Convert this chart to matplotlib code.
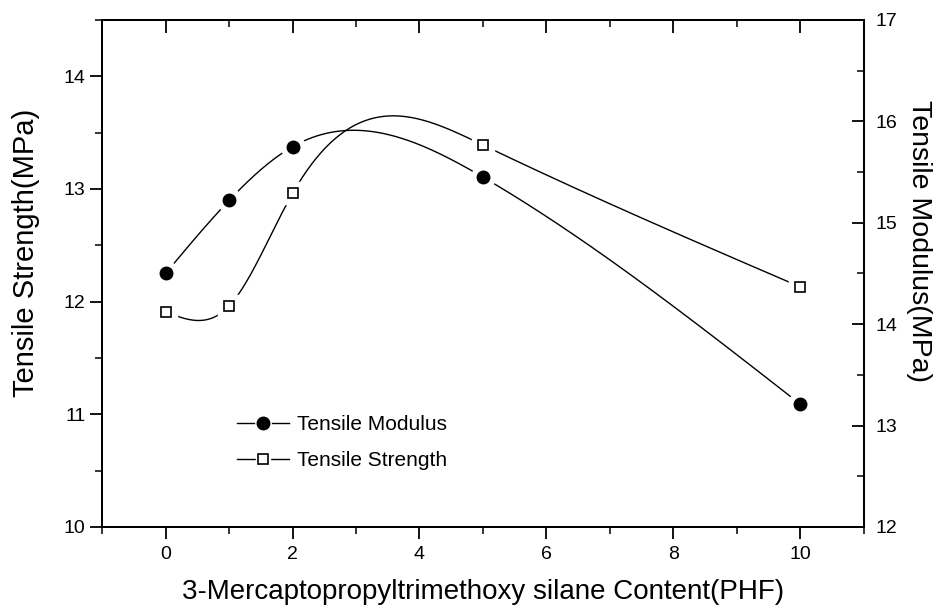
import numpy as np
import matplotlib.pyplot as plt
from matplotlib.ticker import MultipleLocator
from matplotlib.legend_handler import HandlerTuple

plt.rcParams['font.family'] = ['Liberation Sans', 'DejaVu Sans']

# data
content = [0, 1, 2, 5, 10]
strength = [11.91, 11.96, 12.96, 13.39, 12.13]   # left axis
modulus = [14.50, 15.22, 15.75, 15.45, 13.21]    # right axis


def natural_spline(x, y, xs):
    # plain natural cubic spline, used only to draw the smooth connecting line
    x = np.asarray(x, float)
    y = np.asarray(y, float)
    n = len(x)
    h = np.diff(x)
    A = np.zeros((n, n))
    b = np.zeros(n)
    A[0, 0] = A[-1, -1] = 1
    for i in range(1, n - 1):
        A[i, i - 1] = h[i - 1]
        A[i, i] = 2 * (h[i - 1] + h[i])
        A[i, i + 1] = h[i]
        b[i] = 6 * ((y[i + 1] - y[i]) / h[i] - (y[i] - y[i - 1]) / h[i - 1])
    M = np.linalg.solve(A, b)
    idx = np.clip(np.searchsorted(x, xs) - 1, 0, n - 2)
    x0, x1 = x[idx], x[idx + 1]
    hh = x1 - x0
    t0 = x1 - xs
    t1 = xs - x0
    return (M[idx] * t0**3 / (6 * hh) + M[idx + 1] * t1**3 / (6 * hh)
            + (y[idx] / hh - M[idx] * hh / 6) * t0
            + (y[idx + 1] / hh - M[idx + 1] * hh / 6) * t1)


xs = np.linspace(content[0], content[-1], 400)

fig = plt.figure(figsize=(9.36, 6.05), dpi=100)
ax = fig.add_axes([0.109, 0.129, 0.814, 0.838])
ax2 = ax.twinx()

# tensile strength (left axis); white halo gives the gap between line and marker
ax.plot(xs, natural_spline(content, strength, xs), color='black', lw=1.0, zorder=2)
ax.plot(content, strength, ls='none', marker='s', ms=16, mfc='white', mec='white', zorder=3)
ax.plot(content, strength, ls='none', marker='s', ms=7.5, mfc='white', mec='black', mew=1.2, zorder=4)

# tensile modulus (right axis)
ax2.plot(xs, natural_spline(content, modulus, xs), color='black', lw=1.0, zorder=2)
ax2.plot(content, modulus, ls='none', marker='o', ms=17, mfc='white', mec='white', zorder=3)
ax2.plot(content, modulus, ls='none', marker='o', ms=9, mfc='black', mec='black', zorder=4)

ax.set_xlim(-1, 11)
ax.set_ylim(10, 14.5)
ax2.set_ylim(12, 17)

ax.xaxis.set_major_locator(MultipleLocator(2))
ax.xaxis.set_minor_locator(MultipleLocator(1))
ax.yaxis.set_major_locator(MultipleLocator(1))
ax.yaxis.set_minor_locator(MultipleLocator(0.5))
ax2.yaxis.set_major_locator(MultipleLocator(1))
ax2.yaxis.set_minor_locator(MultipleLocator(0.5))

ax.tick_params(axis='both', which='major', direction='out', length=8.5, width=1.3, labelsize=14)
ax.tick_params(axis='both', which='minor', direction='out', length=5, width=1.1)
ax.tick_params(axis='x', which='major', pad=5)
ax2.tick_params(axis='y', which='major', direction='in', length=9, width=1.3, labelsize=14, pad=8)
ax2.tick_params(axis='y', which='minor', direction='in', length=5, width=1.1)

top = ax.secondary_xaxis('top')
top.xaxis.set_major_locator(MultipleLocator(2))
top.xaxis.set_minor_locator(MultipleLocator(1))
top.tick_params(which='major', direction='in', length=9, width=1.3, labeltop=False)
top.tick_params(which='minor', direction='in', length=5, width=1.1)

for a in (ax, ax2, top):
    for s in a.spines.values():
        s.set_linewidth(1.4)

ax.set_xlabel('3-Mercaptopropyltrimethoxy silane Content(PHF)', fontsize=20, labelpad=12)
ax.set_ylabel('Tensile Strength(MPa)', fontsize=21)
ax.yaxis.set_label_coords(-0.082, 0.54)
ax2.set_ylabel('Tensile Modulus(MPa)', fontsize=20.5, rotation=-90)
ax2.yaxis.set_label_coords(1.089, 0.564)

# legend handles: line, white gap, marker drawn on top of each other
line_h = plt.Line2D([], [], color='black', lw=1.0)
mod_gap = plt.Line2D([], [], ls='none', marker='o', ms=11, mfc='white', mec='white')
mod_mk = plt.Line2D([], [], ls='none', marker='o', ms=9, mfc='black', mec='black')
str_gap = plt.Line2D([], [], ls='none', marker='s', ms=10, mfc='white', mec='white')
str_mk = plt.Line2D([], [], ls='none', marker='s', ms=7.5, mfc='white', mec='black', mew=1.2)
ax.legend([(line_h, mod_gap, mod_mk), (line_h, str_gap, str_mk)],
          ['Tensile Modulus', 'Tensile Strength'],
          handler_map={tuple: HandlerTuple(ndivide=1, pad=0)},
          loc='upper left', bbox_to_anchor=(0.164, 0.241), frameon=False, fontsize=15,
          handlelength=2.5, handletextpad=0.35, labelspacing=0.8, borderpad=0)

plt.savefig('out.png', dpi=100)
